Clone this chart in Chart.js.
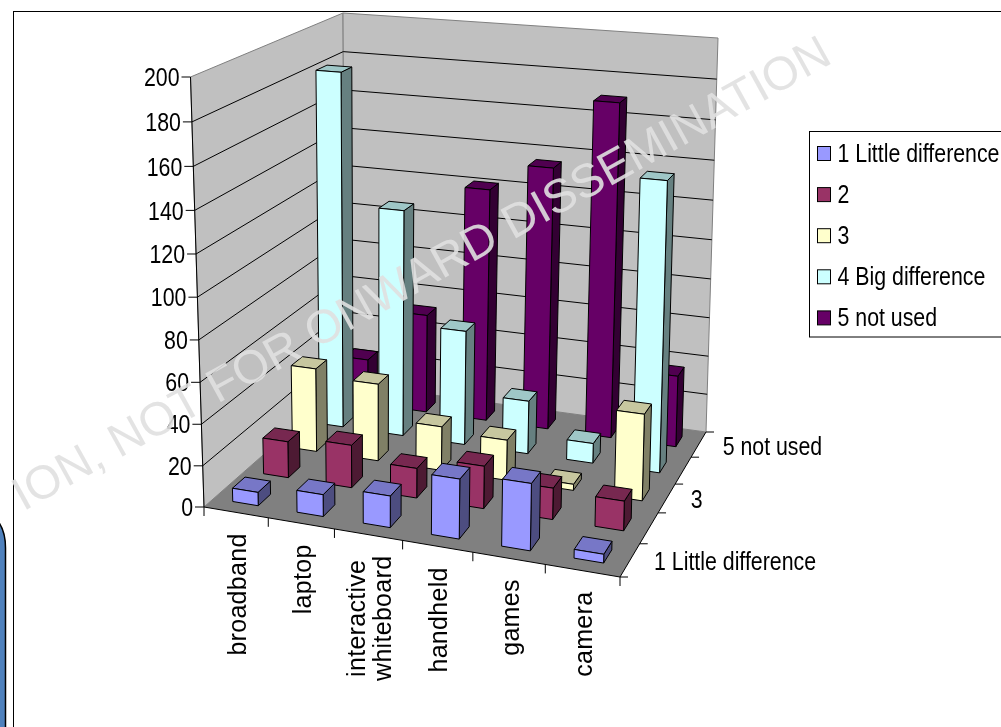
<!DOCTYPE html>
<html>
<head>
<meta charset="utf-8">
<style>html,body{margin:0;padding:0;background:#fff;overflow:hidden}canvas{display:block}</style>
<script src="https://cdn.jsdelivr.net/npm/chart.js@4"></script>
</head>
<body>
<canvas id="c" width="1001" height="727"></canvas>
<script>
const categories = ['broadband', 'laptop', ['interactive', 'whiteboard'], 'handheld', 'games', 'camera'];
const seriesNames = ['1 Little difference', '2', '3', '4 Big difference', '5 not used'];
const little = [6.5, 10.5, 15, 28, 31, 4];
const two = [18, 21, 14.5, 20.5, 15, 14];
const three = [42.5, 39, 22, 20, 3, 42];
const big = [182, 116, 58.5, 27, 10, 143];
const notUsed = [24, 52, 121, 135, 170, 36.5];
const seriesValues = [little, two, three, big, notUsed];
const seriesColors = ['#9999FF', '#993366', '#FFFFCC', '#CCFFFF', '#660066'];
const depthTickLabels = ['1 Little difference', '3', '5 not used'];
const watermark = 'ION, NOT FOR ONWARD DISSEMINATION';

// projection frame of the 3-D box (screen corners)
const floorQuad = [[204,507],[620,577],[706,432],[345,383]];
const topQuad = [[190.5,77],[629.5,110.5],[718,38],[343,13]];
const persp = 0.953;

function quadMap(q){
  const [p0,p1,p2,p3]=q;
  const dx1=p1[0]-p2[0],dx2=p3[0]-p2[0],dx3=p0[0]-p1[0]+p2[0]-p3[0];
  const dy1=p1[1]-p2[1],dy2=p3[1]-p2[1],dy3=p0[1]-p1[1]+p2[1]-p3[1];
  const det=dx1*dy2-dx2*dy1;
  const g=(dx3*dy2-dx2*dy3)/det,h=(dx1*dy3-dx3*dy1)/det;
  const a=p1[0]-p0[0]+g*p1[0],b=p3[0]-p0[0]+h*p3[0],c=p0[0];
  const d=p1[1]-p0[1]+g*p1[1],e=p3[1]-p0[1]+h*p3[1],f=p0[1];
  return (u,v)=>{const w=g*u+h*v+1;return [(a*u+b*v+c)/w,(d*u+e*v+f)/w];};
}
const mapFloor=quadMap(floorQuad), mapTop=quadMap(topQuad);
function P(u,d,h){
  const hh=h*persp/(1+(persp-1)*h);
  const a=mapFloor(u,d),b=mapTop(u,d);
  return [a[0]+(b[0]-a[0])*hh,a[1]+(b[1]-a[1])*hh];
}
function poly(ctx,pts,fill,stroke){
  ctx.beginPath();pts.forEach((p,i)=>i?ctx.lineTo(p[0],p[1]):ctx.moveTo(p[0],p[1]));ctx.closePath();
  if(fill){ctx.fillStyle=fill;ctx.fill();}
  if(stroke){ctx.strokeStyle=stroke;ctx.lineWidth=1;ctx.stroke();}
}
function line(ctx,a,b,color){ctx.beginPath();ctx.moveTo(a[0],a[1]);ctx.lineTo(b[0],b[1]);ctx.strokeStyle=color||'#000';ctx.lineWidth=1;ctx.stroke();}
function shade(hex,k){const n=parseInt(hex.slice(1),16);return 'rgb('+[(n>>16)&255,(n>>8)&255,n&255].map(v=>Math.round(v*k)).join(',')+')';}
function squeezed(ctx,text,x,y,align){
  ctx.save();ctx.translate(x,y);ctx.scale(0.82,1);ctx.font='26px "Liberation Sans"';ctx.textAlign=align;ctx.textBaseline='middle';ctx.fillStyle='#000';ctx.fillText(text,0,0);ctx.restore();
}

const box3d={
  id:'box3d',
  beforeDatasetsDraw(chart){
    const ctx=chart.ctx,xS=chart.scales.x,yS=chart.scales.y,zS=chart.scales.z;
    const U=i=>(xS.getPixelForValue(i)-xS.left)/xS.width;
    const D=j=>(zS.getPixelForValue(j)-zS.left)/zS.width;
    const H=v=>(yS.bottom-yS.getPixelForValue(v))/yS.height;
    const nC=categories.length,nS=seriesNames.length;
    const hu=0.2/nC,hd=0.2/nS;
    // page objects behind the chart
    ctx.save();
    ctx.fillStyle='#fff';ctx.fillRect(0,0,1001,727);
    ctx.beginPath();ctx.moveTo(-3,520);ctx.quadraticCurveTo(5.5,530,5.5,548);ctx.lineTo(5.5,730);ctx.lineTo(-3,730);ctx.closePath();
    ctx.fillStyle='#4F81BD';ctx.fill();ctx.strokeStyle='#000';ctx.lineWidth=1.5;ctx.stroke();
    ctx.strokeStyle='#000';ctx.lineWidth=1;ctx.strokeRect(13.5,11.5,1100,900);
    // walls
    poly(ctx,[P(0,0,0),P(0,1,0),P(0,1,1),P(0,0,1)],'#C0C0C0','#808080');
    poly(ctx,[P(0,1,0),P(1,1,0),P(1,1,1),P(0,1,1)],'#C0C0C0','#808080');
    poly(ctx,[P(0,0,0),P(1,0,0),P(1,1,0),P(0,1,0)],'#808080');
    // gridlines and value axis
    yS.ticks.forEach(t=>{
      const h=H(t.value);
      if(t.value>0&&t.value<200){line(ctx,P(0,0,h),P(0,1,h));line(ctx,P(0,1,h),P(1,1,h));}
      const a=P(0,0,h);
      line(ctx,[a[0]-9,a[1]],a);
      squeezed(ctx,String(t.value),a[0]-11,a[1]+2,'right');
    });
    line(ctx,P(0,0,0),P(0,0,1),'#000');
    // bars, back to front
    for(let j=nS-1;j>=0;j--){
      const c=seriesColors[j],d=D(j);
      for(let i=0;i<nC;i++){
        const u=U(i),h=H(seriesValues[j][i]);
        const u0=u-hu,u1=u+hu,d0=d-hd,d1=d+hd;
        poly(ctx,[P(u1,d0,0),P(u1,d1,0),P(u1,d1,h),P(u1,d0,h)],shade(c,0.5),'#000');
        poly(ctx,[P(u0,d0,h),P(u1,d0,h),P(u1,d1,h),P(u0,d1,h)],shade(c,0.78),'#000');
        poly(ctx,[P(u0,d0,0),P(u1,d0,0),P(u1,d0,h),P(u0,d0,h)],c,'#000');
      }
    }
    // floor axes
    line(ctx,P(0,0,0),P(1,0,0));
    line(ctx,P(1,0,0),P(1,1,0));
    for(let i=0;i<=nC;i++){const a=P(i/nC,0,0);line(ctx,a,[a[0],a[1]+9]);}
    for(let j=0;j<=nS;j++){const a=P(1,j/nS,0);line(ctx,a,[a[0]+8,a[1]]);}
    // category labels
    xS.ticks.forEach((t,i)=>{
      const a=P(U(i),0,0);
      const lines=[].concat(categories[i]);
      const longest=Math.max(...lines.map(s=>{ctx.font='25px "Liberation Sans"';ctx.letterSpacing='0.3px';return ctx.measureText(s).width;}));
      lines.forEach((s,k)=>{
        ctx.save();
        ctx.translate(a[0]+3+(k-(lines.length-1)/2)*26,a[1]+21+longest/2);
        ctx.rotate(-Math.PI/2);
        ctx.font='25px "Liberation Sans"';ctx.letterSpacing='0.3px';ctx.textAlign='center';ctx.textBaseline='middle';ctx.fillStyle='#000';
        ctx.fillText(s,0,0);
        ctx.restore();
      });
    });
    ctx.letterSpacing='0px';
    // depth labels
    zS.ticks.forEach((t,j)=>{
      const name=seriesNames[j];
      if(!depthTickLabels.includes(name))return;
      const a=P(1,D(j),0);
      squeezed(ctx,name,a[0]+24,a[1]+3,'left');
    });
    // legend
    ctx.fillStyle='#fff';ctx.fillRect(809.5,131.5,300,205.5);
    ctx.strokeStyle='#000';ctx.lineWidth=1;ctx.strokeRect(809.5,131.5,300,205.5);
    chart.data.datasets.forEach((ds,j)=>{
      const y=153.5+j*41.1;
      ctx.fillStyle=ds.backgroundColor;ctx.fillRect(817.5,y-7,13,14);
      ctx.strokeStyle='#000';ctx.strokeRect(817.5,y-7,13,14);
      squeezed(ctx,ds.label,837.5,y+1,'left');
    });
    // watermark
    ctx.save();
    ctx.translate(834,62);ctx.rotate(-29*Math.PI/180);
    ctx.font='47px "Liberation Sans"';ctx.textAlign='right';ctx.textBaseline='alphabetic';
    ctx.fillStyle='rgba(224,224,224,0.9)';
    ctx.fillText(watermark,0,0);
    ctx.restore();
    ctx.restore();
    return false;
  }
};

new Chart(document.getElementById('c'),{
  type:'bar',
  data:{labels:categories,datasets:seriesNames.map((n,j)=>({label:n,data:seriesValues[j],backgroundColor:seriesColors[j],borderColor:'#000'}))},
  options:{
    responsive:false,animation:false,
    plugins:{legend:{display:false},tooltip:{enabled:false}},
    scales:{
      x:{type:'category',display:false,offset:true,ticks:{autoSkip:false}},
      y:{type:'linear',display:false,min:0,max:200,ticks:{stepSize:20}},
      z:{type:'category',axis:'x',display:false,offset:true,labels:seriesNames,ticks:{autoSkip:false}}
    }
  },
  plugins:[box3d]
});
</script>
</body>
</html>
